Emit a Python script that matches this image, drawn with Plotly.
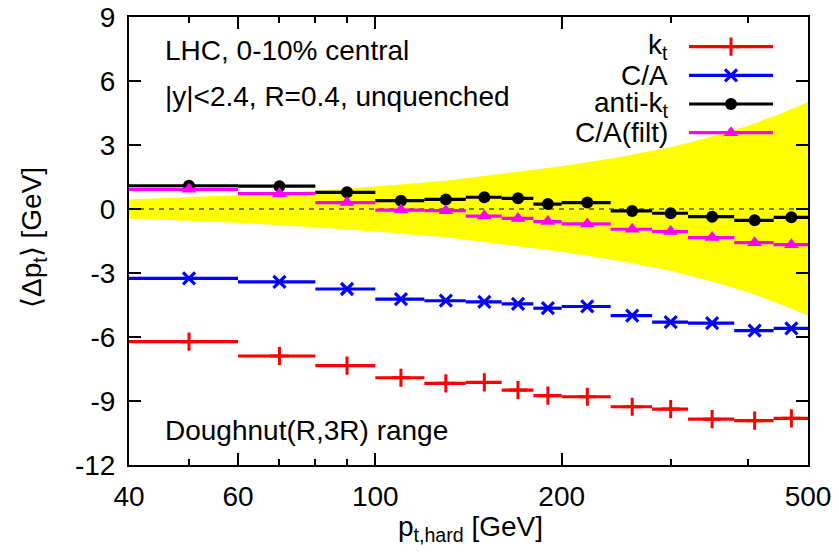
import math
import plotly.graph_objects as go

# ---------------- data ----------------
bin_lo = [40, 60, 80, 100, 120, 140, 160, 180, 200, 240, 280, 320, 380, 440]
bin_hi = [60, 80, 100, 120, 140, 160, 180, 200, 240, 280, 320, 380, 440, 500]

kt_vals     = [-6.22, -6.89, -7.34, -7.91, -8.17, -8.13, -8.49, -8.75, -8.80, -9.27, -9.38, -9.85, -9.92, -9.81]
ca_vals     = [-3.25, -3.42, -3.75, -4.22, -4.30, -4.35, -4.45, -4.65, -4.57, -5.00, -5.30, -5.35, -5.70, -5.60]
antikt_vals = [1.09, 1.07, 0.78, 0.39, 0.45, 0.55, 0.50, 0.23, 0.30, -0.09, -0.20, -0.36, -0.53, -0.39]
cafilt_vals = [0.92, 0.72, 0.30, -0.05, -0.08, -0.33, -0.44, -0.59, -0.70, -0.95, -1.06, -1.34, -1.58, -1.67]

band_pt   = [40, 60, 80, 100, 130, 160, 200, 250, 300, 350, 400, 450, 500]
band_half = [0.45, 0.65, 0.85, 1.05, 1.33, 1.65, 2.0, 2.45, 2.9, 3.4, 3.9, 4.45, 5.0]

x_ticks = [40, 60, 100, 200, 500]
x_minor = [50, 70, 80, 90, 300, 400]
y_ticks = [-12, -9, -6, -3, 0, 3, 6, 9]

series = [
    ("k<sub>t</sub>", kt_vals, "#ff0000", "cross-thin", 13, 3),
    ("C/A", ca_vals, "#0000ff", "x-thin", 12, 3.2),
    ("anti-k<sub>t</sub>", antikt_vals, "#000000", "circle", 12, 0),
    ("C/A(filt)", cafilt_vals, "#ff00ff", "triangle-up", 13, 0),
]

# ---------------- geometry ----------------
W, H = 839, 560
L, R, T, B = 129, 31, 17, 95
PW, PH = W - L - R, H - T - B
FONT = "Liberation Sans, Arial, Helvetica, sans-serif"
FS = 28


def px_x(p):
    return (p - L) / PW


def px_y(p):
    return (H - B - p) / PH


fig = go.Figure()

# yellow band
bx = band_pt + band_pt[::-1]
by = band_half + [-v for v in band_half[::-1]]
fig.add_trace(go.Scatter(x=bx, y=by, fill="toself", fillcolor="#ffff00",
                         line=dict(width=0), mode="lines", hoverinfo="skip",
                         showlegend=False))

# zero reference line
fig.add_trace(go.Scatter(x=[bin_lo[0], bin_hi[-1]], y=[0, 0], mode="lines",
                         line=dict(color="black", width=1, dash="5px,5px"),
                         showlegend=False, hoverinfo="skip"))

for name, vals, col, sym, msize, mlw in series:
    sx, sy = [], []
    for lo, hi, v in zip(bin_lo, bin_hi, vals):
        sx += [lo, hi, None]
        sy += [v, v, None]
    fig.add_trace(go.Scatter(x=sx, y=sy, mode="lines",
                             line=dict(color=col, width=3.2),
                             showlegend=False, hoverinfo="skip"))
    cx = [(lo + hi) / 2 for lo, hi in zip(bin_lo, bin_hi)]
    mk = dict(symbol=sym, size=msize, color=col)
    mk["line"] = dict(color=col, width=mlw) if mlw else dict(width=0)
    fig.add_trace(go.Scatter(x=cx, y=vals, mode="markers", marker=mk,
                             name=name, showlegend=False))

# ---------------- manual gnuplot-style key ----------------
key_rows = [46.7, 75.3, 104.0, 132.7]
key_x0, key_x1, key_xm, key_txt = 689, 773, 731, 670
annotations = []
for (name, vals, col, sym, msize, mlw), ry in zip(series, key_rows):
    yy = px_y(ry)
    fig.add_trace(go.Scatter(x=[px_x(key_x0), px_x(key_x1)], y=[yy, yy],
                             xaxis="x2", yaxis="y2", mode="lines",
                             line=dict(color=col, width=3.2),
                             showlegend=False, hoverinfo="skip"))
    mk = dict(symbol=sym, size=msize, color=col)
    mk["line"] = dict(color=col, width=mlw) if mlw else dict(width=0)
    fig.add_trace(go.Scatter(x=[px_x(key_xm)], y=[yy], xaxis="x2", yaxis="y2",
                             mode="markers", marker=mk, showlegend=False,
                             hoverinfo="skip"))
    annotations.append(dict(text=name, xref="paper", yref="paper",
                            x=px_x(key_txt), y=yy, xanchor="right",
                            yanchor="middle", showarrow=False,
                            font=dict(family=FONT, size=FS, color="black")))

# text labels
annotations += [
    dict(text="LHC, 0-10% central", x=px_x(163), y=px_y(50), xanchor="left",
         yanchor="middle"),
    dict(text="|y|<2.4, R=0.4, unquenched", x=px_x(163), y=px_y(96),
         xanchor="left", yanchor="middle"),
    dict(text="Doughnut(R,3R) range", x=px_x(163), y=px_y(430),
         xanchor="left", yanchor="middle"),
    dict(text="p<sub>t,hard</sub> [GeV]", x=px_x(470), y=px_y(528),
         xanchor="center", yanchor="middle"),
    dict(text="\u27e8\u0394p<sub>t</sub>\u27e9 [GeV]", x=px_x(33), y=px_y(238),
         xanchor="center", yanchor="middle", textangle=-90),
]
for a in annotations[4:]:
    a.update(xref="paper", yref="paper", showarrow=False,
             font=dict(family=FONT, size=FS, color="black"))

axis_common = dict(showline=True, linecolor="black", linewidth=2,
                   mirror="ticks", ticks="inside", tickwidth=2,
                   tickcolor="black", showgrid=False, zeroline=False,
                   automargin=False,
                   tickfont=dict(family=FONT, size=FS, color="black"))

fig.update_layout(
    template="none",
    width=W, height=H,
    margin=dict(l=L, r=R, t=T, b=B, autoexpand=False),
    paper_bgcolor="white", plot_bgcolor="white",
    showlegend=False,
    annotations=annotations,
    xaxis=dict(type="log", range=[math.log10(40), math.log10(500)],
               tickmode="array", tickvals=x_ticks,
               ticktext=[str(v) for v in x_ticks], ticklen=12,
               ticklabelstandoff=5,
               minor=dict(tickmode="array", tickvals=x_minor, ticklen=6,
                          tickwidth=2, tickcolor="black", ticks="inside"),
               **axis_common),
    yaxis=dict(range=[-12, 9], tickmode="array", tickvals=y_ticks,
               ticktext=[str(v) for v in y_ticks], ticklen=12,
               ticklabelstandoff=6,
               **axis_common),
    xaxis2=dict(range=[0, 1], overlaying="x", visible=False, fixedrange=True),
    yaxis2=dict(range=[0, 1], overlaying="y", visible=False, fixedrange=True),
)

fig.write_html("out.html", config={"displayModeBar": False},
               post_script="document.body.style.margin='0';")
